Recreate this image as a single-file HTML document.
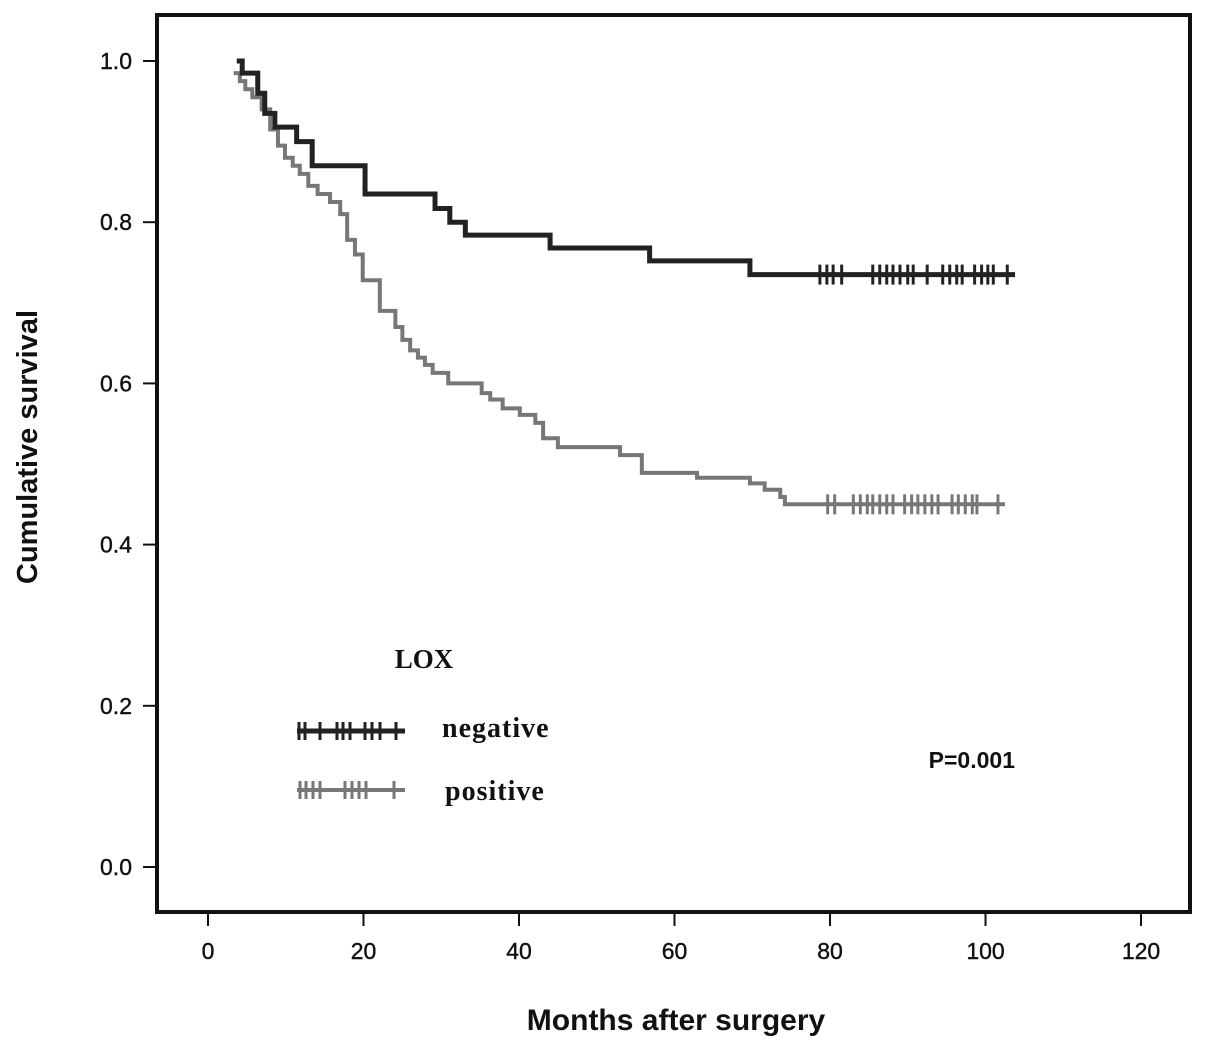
<!DOCTYPE html>
<html><head><meta charset="utf-8"><style>
html,body{margin:0;padding:0;background:#fff;}
svg{display:block;}
</style></head><body>
<svg id="chart" width="1205" height="1051" viewBox="0 0 1205 1051" xmlns="http://www.w3.org/2000/svg">
<rect x="0" y="0" width="1205" height="1051" fill="#fff"/>
<g id="ticks"></g>
<g id="curves"></g>
<rect x="157" y="15" width="1033" height="897" fill="none" stroke="#111" stroke-width="4"/>
<text x="28" y="447" transform="rotate(-90 28 447)" text-anchor="middle" dominant-baseline="central" font-family="Liberation Sans, sans-serif" font-weight="bold" font-size="29" fill="#111">Cumulative survival</text>
<text x="676" y="1030" text-anchor="middle" font-family="Liberation Sans, sans-serif" font-weight="bold" font-size="30" fill="#111">Months after surgery</text>
<text x="424" y="668" text-anchor="middle" font-family="Liberation Serif, serif" font-weight="bold" font-size="27" fill="#111">LOX</text>
<text x="442" y="737" font-family="Liberation Serif, serif" font-weight="bold" font-size="28" letter-spacing="1" fill="#111">negative</text>
<text x="445" y="800" font-family="Liberation Serif, serif" font-weight="bold" font-size="28" letter-spacing="1" fill="#111">positive</text>
<text x="1015" y="768" text-anchor="end" font-family="Liberation Sans, sans-serif" font-weight="bold" font-size="23" fill="#111">P=0.001</text>
<g id="legend"></g>
</svg>
<script>
const xTicks = [0,20,40,60,80,100,120];
const yTicks = [0.0,0.2,0.4,0.6,0.8,1.0];
const negTimes = [3.7,4.4,6.4,7.3,8.6,11.4,13.4,20.2,29.2,31.1,33.1,44,56.8,69.7];
const negSurv  = [1.0,0.985,0.96,0.935,0.918,0.9,0.87,0.835,0.817,0.8,0.784,0.768,0.752,0.735];
const negEnd = 103.8;
const negCensor = [78.7,79.6,80.4,81.5,85.5,86.4,87.3,88.1,89,90,90.7,92.5,94.5,95.4,96.3,97,98.6,99.5,100.3,101,102.8];
const posTimes = [3.3,4.1,4.8,5.7,6.9,8,9,9.9,10.9,11.8,12.9,14.1,15.7,17,17.9,18.9,19.9,22.1,24.1,25,26,27,27.9,28.9,30.9,35.2,36.3,37.9,40.1,42.1,43.1,45,53,55.8,62.9,69.7,71.6,73.6,74.2];
const posSurv  = [0.985,0.975,0.965,0.955,0.94,0.915,0.895,0.88,0.87,0.86,0.845,0.835,0.825,0.81,0.778,0.76,0.728,0.69,0.67,0.654,0.641,0.632,0.623,0.613,0.6,0.588,0.58,0.569,0.561,0.551,0.532,0.521,0.511,0.489,0.483,0.476,0.468,0.459,0.45];
const posEnd = 102.5;
const posCensor = [79.7,80.6,83,83.9,84.8,85.5,86.4,87.3,88.1,89.6,90.5,91.3,92.2,93.1,93.9,95.7,96.5,97.4,98.3,98.9,101.6];

const NS='http://www.w3.org/2000/svg';
const X = m => 208 + m*7.775;
const Y = s => 867 - s*806;
function mk(tag, attrs, parent){const e=document.createElementNS(NS,tag);for(const k in attrs)e.setAttribute(k,attrs[k]);parent.appendChild(e);return e;}
const tg=document.getElementById('ticks');
xTicks.forEach(t=>{
  const l=mk('line',{x1:X(t),x2:X(t),y1:912,y2:926,stroke:'#111','stroke-width':2},tg);
  
  
  const tx=mk('text',{x:X(t),y:959,'text-anchor':'middle','font-family':'Liberation Sans, sans-serif','font-size':23,fill:'#111',stroke:'#111','stroke-width':0.4},tg);
  tx.textContent=t;
  
  
});
yTicks.forEach(t=>{
  const l=mk('line',{x1:143,x2:157,y1:Y(t),y2:Y(t),stroke:'#111','stroke-width':2},tg);
  
  
  const tx=mk('text',{x:132,y:Y(t)+8,'text-anchor':'end','font-family':'Liberation Sans, sans-serif','font-size':23,fill:'#111',stroke:'#111','stroke-width':0.4},tg);
  tx.textContent=t.toFixed(1);
  
  
});
const cg=document.getElementById('curves');
function curve(times,surv,end,cens,color,w,name){
  let d='M'+X(times[0])+','+Y(surv[0]);
  for(let i=1;i<times.length;i++){d+=' H'+X(times[i])+' V'+Y(surv[i]);}
  d+=' H'+X(end);
  const p=mk('path',{d:d,fill:'none',stroke:color,'stroke-width':w},cg);
  
  
  const last=surv[surv.length-1];
  cens.forEach(c=>{
    const t=mk('line',{x1:X(c),x2:X(c),y1:Y(last)-10,y2:Y(last)+10,stroke:color,'stroke-width':3},cg);
    
    
  });
}
curve(posTimes,posSurv,posEnd,posCensor,'#777',4,'positive');
curve(negTimes,negSurv,negEnd,negCensor,'#222',5,'negative');
const lg=document.getElementById('legend');
function legendLine(y,color,w,xs,name){
  const l=mk('line',{x1:297,x2:405,y1:y,y2:y,stroke:color,'stroke-width':w},lg);
  
  
  xs.forEach(x=>{
    const t=mk('line',{x1:x,x2:x,y1:y-9,y2:y+9,stroke:color,'stroke-width':3},lg);
    
    
  });
}
legendLine(731,'#222',5,[299,305,320,337,343,350,365,372,380,396],'negative');
legendLine(790,'#777',4,[300,306,313,320,345,352,359,366,394],'positive');
</script>
</body></html>
